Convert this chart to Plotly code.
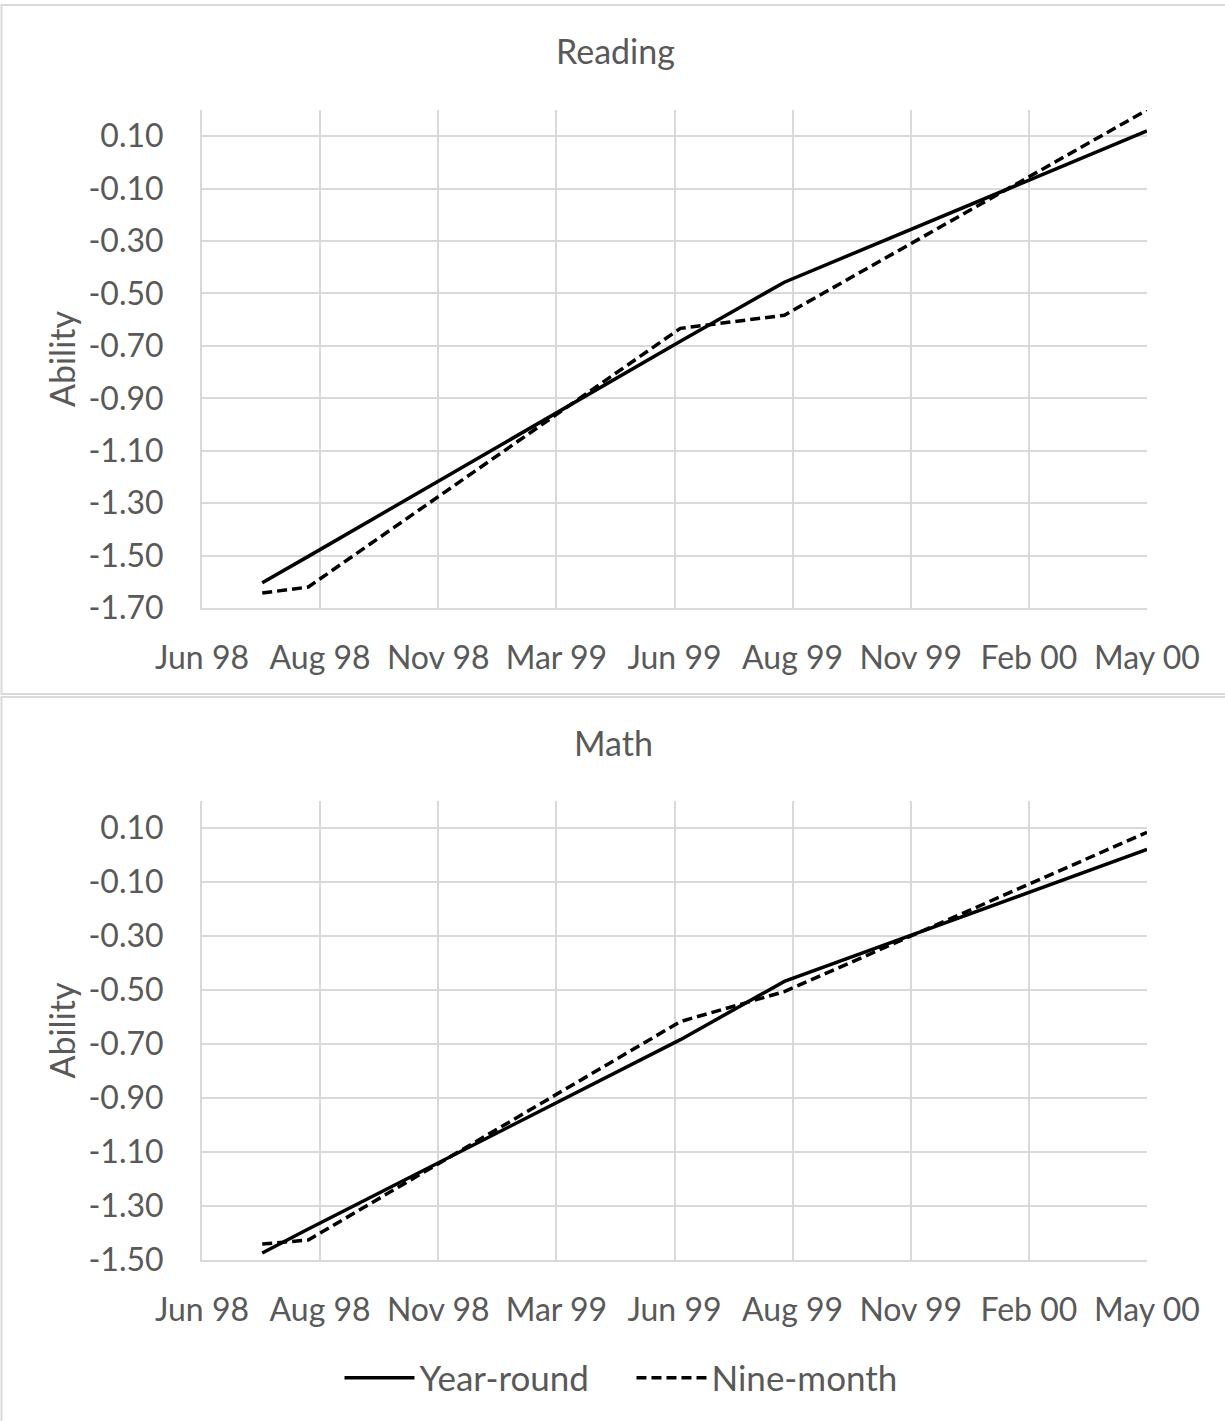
import plotly.graph_objects as go

# ---- data ----
tick_pos = [0, 1, 2, 3, 4, 5, 6, 7, 8]
tick_labels = ["Jun 98", "Aug 98", "Nov 98", "Mar 99", "Jun 99", "Aug 99", "Nov 99", "Feb 00", "May 00"]
time_points = [0.51, 0.9, 4.05, 4.93, 8.0]

reading_year_round = [-1.604, -1.503, -0.682, -0.457, 0.120]
reading_nine_month = [-1.643, -1.620, -0.633, -0.583, 0.200]
math_year_round = [-1.474, -1.385, -0.684, -0.468, 0.021]
math_nine_month = [-1.441, -1.426, -0.617, -0.506, 0.084]

reading_yticks = [-1.7, -1.5, -1.3, -1.1, -0.9, -0.7, -0.5, -0.3, -0.1, 0.1]
reading_ylabels = ["-1.70", "-1.50", "-1.30", "-1.10", "-0.90", "-0.70", "-0.50", "-0.30", "-0.10", "0.10"]
math_yticks = [-1.5, -1.3, -1.1, -0.9, -0.7, -0.5, -0.3, -0.1, 0.1]
math_ylabels = ["-1.50", "-1.30", "-1.10", "-0.90", "-0.70", "-0.50", "-0.30", "-0.10", "0.10"]

# ---- style ----
W, H = 1225, 1421
FONT = "Lato"
TXT = "#595959"
GRID = "#d9d9d9"
FS = 32
FT = 34

def py(px):
    return 1 - px / H

fig = go.Figure()

solid = dict(color="black", width=3.5)
dashed = dict(color="black", width=3.5, dash="10px,5px")

fig.add_trace(go.Scatter(x=time_points, y=reading_year_round, mode="lines", line=solid,
                         name="Year-round", xaxis="x", yaxis="y", legendgroup="yr"))
fig.add_trace(go.Scatter(x=time_points, y=reading_nine_month, mode="lines", line=dashed,
                         name="Nine-month", xaxis="x", yaxis="y", legendgroup="nm"))
fig.add_trace(go.Scatter(x=time_points, y=math_year_round, mode="lines", line=solid,
                         name="Year-round", xaxis="x2", yaxis="y2", legendgroup="yr", showlegend=False))
fig.add_trace(go.Scatter(x=time_points, y=math_nine_month, mode="lines", line=dashed,
                         name="Nine-month", xaxis="x2", yaxis="y2", legendgroup="nm", showlegend=False))

xdom = [202 / W, 1147 / W]

def xaxis_cfg(anchor):
    return dict(domain=xdom, anchor=anchor, range=[0, 8], tickmode="array",
                tickvals=tick_pos, ticktext=tick_labels, showgrid=True, gridcolor=GRID,
                gridwidth=1.5, showline=True, linecolor=GRID, linewidth=2, zeroline=False,
                ticks="", ticklabelstandoff=21, automargin=False,
                tickfont=dict(family=FONT, size=FS, color=TXT))

def yaxis_cfg(anchor, dom, rng, tv, tt):
    return dict(domain=dom, anchor=anchor, range=rng, tickmode="array",
                tickvals=tv, ticktext=tt, showgrid=True, gridcolor=GRID, gridwidth=1.5,
                showline=True, linecolor=GRID, linewidth=2, zeroline=False, ticks="",
                ticklabelstandoff=30, automargin=False,
                tickfont=dict(family=FONT, size=FS, color=TXT),
                title=dict(text="Ability", standoff=3,
                           font=dict(family=FONT, size=FT, color=TXT)))

fig.update_layout(
    width=W, height=H,
    margin=dict(l=0, r=0, t=0, b=0, autoexpand=False),
    paper_bgcolor="white", plot_bgcolor="white",
    xaxis=xaxis_cfg("y"),
    yaxis=yaxis_cfg("x", [py(608), py(110)], [-1.7, 0.2], reading_yticks, reading_ylabels),
    xaxis2=xaxis_cfg("y2"),
    yaxis2=yaxis_cfg("x2", [py(1260), py(801)], [-1.5, 0.2], math_yticks, math_ylabels),
    showlegend=True,
    legend=dict(orientation="h", x=0.5155, xanchor="center", y=py(1378), yanchor="middle",
                font=dict(family=FONT, size=35, color=TXT), itemwidth=70,
                entrywidth=207, entrywidthmode="pixels",
                bgcolor="rgba(0,0,0,0)"),
    annotations=[
        dict(text="Reading", x=615 / W, y=py(50), xref="paper", yref="paper",
             xanchor="center", yanchor="middle",
             showarrow=False, font=dict(family=FONT, size=FT, color=TXT)),
        dict(text="Math", x=613 / W, y=py(742), xref="paper", yref="paper",
             xanchor="center", yanchor="middle",
             showarrow=False, font=dict(family=FONT, size=FT, color=TXT)),
    ],
    shapes=[
        dict(type="rect", xref="paper", yref="paper", x0=1.5 / W, x1=1.01, y0=py(694), y1=py(5),
             line=dict(color=GRID, width=2), fillcolor="rgba(0,0,0,0)", layer="below"),
        dict(type="rect", xref="paper", yref="paper", x0=1.5 / W, x1=1.01, y0=-0.01, y1=py(697),
             line=dict(color=GRID, width=2), fillcolor="rgba(0,0,0,0)", layer="below"),
    ],
)

fig.write_html("out.html", config={"displayModeBar": False},
               post_script="document.body.style.margin='0';document.body.style.overflow='hidden';")
